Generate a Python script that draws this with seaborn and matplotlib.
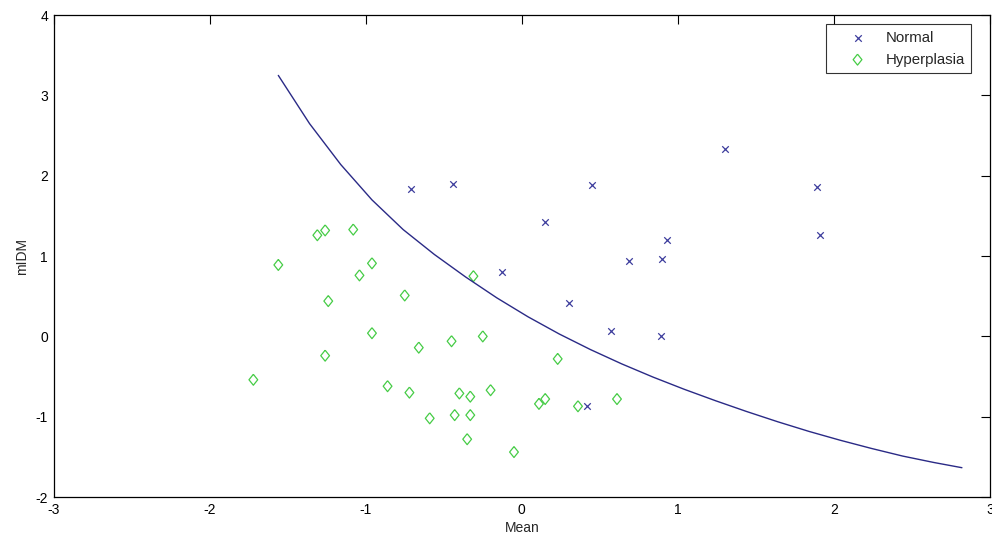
import numpy as np
import pandas as pd
import matplotlib.pyplot as plt
import seaborn as sns

# points
normal_mean = [-0.71, -0.44, 0.45, 0.15, 0.93, 0.90, 0.69, -0.13, 0.30, 0.57, 0.89,
               0.42, 1.30, 1.89, 1.91]
normal_midm = [1.83, 1.90, 1.89, 1.42, 1.20, 0.97, 0.94, 0.80, 0.41, 0.07, 0.01,
               -0.87, 2.33, 1.86, 1.26]

hyper_mean = [-1.31, -1.26, -1.08, -1.56, -0.96, -1.04, -0.31, -0.75, -1.24, -0.96,
              -0.25, -0.45, -0.66, 0.23, -1.26, -1.72, -0.86, -0.72, -0.40, -0.33,
              -0.20, 0.11, 0.15, -0.59, -0.43, -0.33, -0.35, -0.05, 0.61, 0.36]
hyper_midm = [1.26, 1.32, 1.33, 0.89, 0.91, 0.76, 0.75, 0.51, 0.44, 0.04,
              0.00, -0.06, -0.14, -0.28, -0.24, -0.54, -0.62, -0.70, -0.71, -0.75,
              -0.67, -0.84, -0.78, -1.02, -0.98, -0.98, -1.28, -1.44, -0.78, -0.87]

# decision boundary, every 0.2 in Mean
curve_mean = [-1.56, -1.36, -1.16, -0.96, -0.76, -0.56, -0.36, -0.16, 0.04, 0.24,
              0.44, 0.64, 0.84, 1.04, 1.24, 1.44, 1.64, 1.84, 2.04, 2.24,
              2.44, 2.64, 2.82]
curve_midm = [3.25, 2.65, 2.14, 1.70, 1.33, 1.02, 0.74, 0.48, 0.244, 0.03,
              -0.164, -0.342, -0.506, -0.658, -0.80, -0.935, -1.063, -1.183, -1.293, -1.395,
              -1.49, -1.57, -1.635]

# diamond a little taller than wide, like the MATLAB one
diamond = [(0, 1), (0.8, 0), (0, -1), (-0.8, 0), (0, 1)]


def main():
    sns.set_style('white')
    plt.rcParams['font.family'] = ['Liberation Sans', 'DejaVu Sans']
    plt.rcParams['axes.unicode_minus'] = False

    normal = pd.DataFrame({'Mean': normal_mean, 'mIDM': normal_midm})
    hyper = pd.DataFrame({'Mean': hyper_mean, 'mIDM': hyper_midm})
    curve = pd.DataFrame({'Mean': curve_mean, 'mIDM': curve_midm})

    fig = plt.figure(figsize=(9.92, 5.42), dpi=100)
    ax = fig.add_axes([0.054, 0.083, 0.944, 0.889])

    sns.scatterplot(data=normal, x='Mean', y='mIDM', marker='x', s=22,
                    color='#3c3c9c', linewidth=0.9, label='Normal', ax=ax)
    sns.scatterplot(data=hyper, x='Mean', y='mIDM', marker=diamond, s=62,
                    facecolor='none', edgecolor='#46cc46', linewidth=0.9,
                    label='Hyperplasia', ax=ax)
    sns.lineplot(data=curve, x='Mean', y='mIDM', sort=False, estimator=None,
                 color='#2a2a86', linewidth=1.0, ax=ax)

    ax.set_xlim(-3, 3)
    ax.set_ylim(-2, 4)
    ax.set_xticks(range(-3, 4))
    ax.set_yticks(range(-2, 5))
    ax.tick_params(direction='in', length=6.8, width=0.8, top=True, right=True,
                   labelsize=10, colors='black', pad=4)
    for side in ax.spines.values():
        side.set_color('black')
        side.set_linewidth(0.9)
    ax.set_xlabel('Mean', fontsize=10, labelpad=3)
    ax.set_ylabel('mIDM', fontsize=10, labelpad=5)

    leg = ax.legend(loc='upper right', bbox_to_anchor=(0.98, 0.981),
                    borderaxespad=0, fontsize=10.8, frameon=True, fancybox=False,
                    edgecolor='black', handlelength=3.3, handletextpad=0.2,
                    borderpad=0.45, labelspacing=0.5)
    leg.get_frame().set_linewidth(0.8)

    fig.savefig('out.png', dpi=100)


if __name__ == '__main__':
    main()
